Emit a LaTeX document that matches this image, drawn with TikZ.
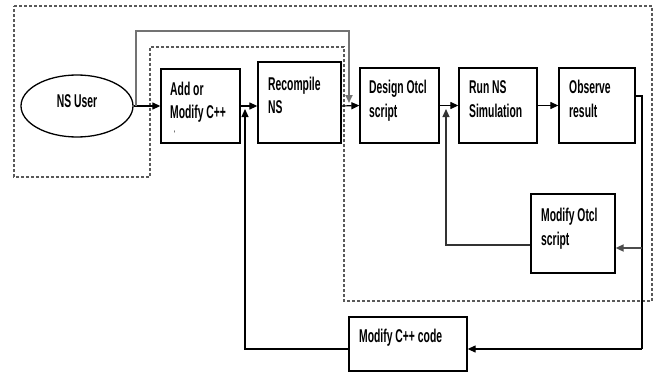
\documentclass[tikz,border=0pt]{standalone}
\usepackage{fontspec}
\newfontfamily\nf[FakeStretch=0.56]{Liberation Sans}
\usetikzlibrary{arrows.meta,calc,shapes.geometric}
\tikzset{
  box/.style={draw, line width=1.3pt, inner sep=0pt},
  lbl/.style={anchor=base west, inner sep=0pt, font=\nf\bfseries\fontsize{18.5}{22}\selectfont},
  conn/.style={line width=1.2pt, -{Triangle[length=8pt,width=7pt]}},
  plain/.style={line width=1.2pt},
  grayconn/.style={line width=1.8pt, draw=black!55, -{Triangle[length=8pt,width=7pt]}},
  region/.style={draw=black!65, line width=1.3pt, dash pattern=on 3pt off 2pt}
}
\begin{document}
\begin{tikzpicture}[x=1pt,y=-1pt]
\useasboundingbox (0,0) rectangle (656,372);
% dashed region
\draw[region] (14,6) -- (652,6) -- (652,301) -- (344,301) -- (344,47) -- (150,47) -- (150,177) -- (14,177) -- cycle;
% nodes
\node[box, ellipse, minimum width=112pt, minimum height=62pt] (user) at (77,106) {};
\node[box, minimum width=79pt, minimum height=74pt] (add) at (200.5,106) {};
\node[box, minimum width=83pt, minimum height=81pt] (rec) at (299.5,102.5) {};
\node[box, minimum width=79pt, minimum height=75pt] (des) at (399.5,105.5) {};
\node[box, minimum width=78pt, minimum height=75pt] (run) at (498,105.5) {};
\node[box, minimum width=76pt, minimum height=75pt] (obs) at (597,105.5) {};
\node[box, minimum width=84pt, minimum height=79pt] (mot) at (573,233.5) {};
\node[box, minimum width=118pt, minimum height=54pt] (mcc) at (408,344) {};
% texts
\node[lbl, anchor=base] (tuser) at (77,107) {NS User};
\node[lbl] (tadd1) at (170,95) {Add or};
\node[lbl] (tadd2) at (170,118) {Modify C++};
\node[lbl, font=\nf\bfseries\fontsize{8}{9}\selectfont] (tadd3) at (174,136) {'};
\node[lbl] (trec1) at (268,90) {Recompile};
\node[lbl] (trec2) at (268,113) {NS};
\node[lbl] (tdes1) at (369,93) {Design Otcl};
\node[lbl] (tdes2) at (369,117) {script};
\node[lbl] (trun1) at (469,93) {Run NS};
\node[lbl] (trun2) at (469,117) {Simulation};
\node[lbl] (tobs1) at (569,93) {Observe};
\node[lbl] (tobs2) at (569,117) {result};
\node[lbl] (tmot1) at (541,221) {Modify Otcl};
\node[lbl] (tmot2) at (541,245) {script};
\node[lbl] (tmcc) at (359,342) {Modify C++ code};
% junction coordinates
\coordinate (jtop) at (136,106);
\coordinate (jdes) at (349,103);
\coordinate (jrec) at (245,109);
\coordinate (jrun) at (446,109);
\coordinate (jright) at (642,96);
\coordinate (jbranch) at (642,248);
\coordinate (jbottom) at (642,349);
% connectors
\draw[conn] (user.east) -- (add.west);
\draw[grayconn] (jtop) -- (136,31) -- (349,31) -- (jdes);
\draw[conn] (add.east) -- (add.east -| rec.west);
\draw[conn] (mcc.west |- jbottom) -| (jrec);
\draw[conn] (rec.east |- add.east) -- (des.west);
\draw[conn] (des.east) -- (run.west);
\draw[conn, draw=black!80] ([yshift=-11.5pt]mot.west) -| (jrun);
\draw[conn] (run.east) -- (obs.west);
\draw[plain] ([yshift=9.5pt]obs.east) -- (jright) -- (jbottom);
\draw[grayconn, draw=black!70] (jbranch) -- ([yshift=-14.5pt]mot.east);
\draw[conn] (jbottom) -- (mcc.east |- jbottom);
\end{tikzpicture}
\end{document}
